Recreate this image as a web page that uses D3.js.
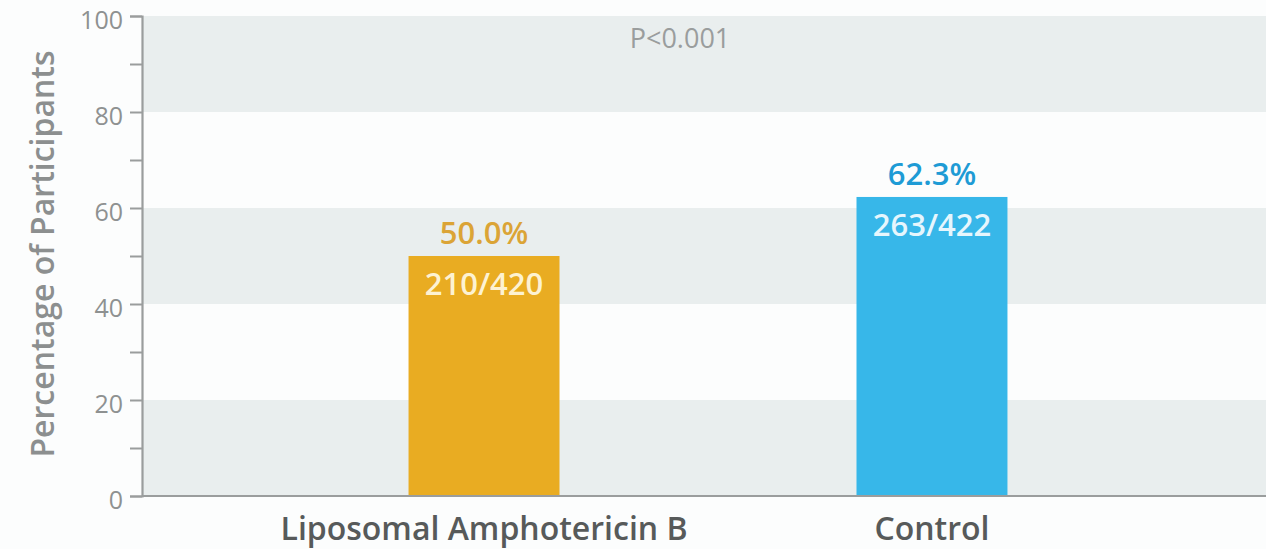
<!DOCTYPE html>
<html>
<head>
<meta charset="utf-8">
<script src="https://cdn.jsdelivr.net/npm/d3@7"></script>
<style>
  html, body { margin: 0; padding: 0; background: #fcfdfd; }
  svg { display: block; }
  text { font-family: "Open Sans", Lato, sans-serif; }
</style>
</head>
<body>
<svg id="chart" width="1266" height="549"></svg>
<script>
// Trial arms and outcome
const categories = ["Liposomal Amphotericin B", "Control"];
const percentages = [50.0, 62.3];
const counts = ["210/420", "263/422"];
const yTicks = [0, 20, 40, 60, 80, 100];
const pValueText = "P<0.001";
const yTitle = "Percentage of Participants";

const W = 1266, H = 549;
const margin = { left: 142, top: 16, bottom: 53 };
const plotRight = W;

const svg = d3.select("#chart");

const y = d3.scaleLinear().domain([0, 100]).range([H - margin.bottom, margin.top]);
const x = d3.scaleBand().domain(categories)
  .range([margin.left, 1274]).paddingInner(0.663).paddingOuter(0.595);

const colors = ["#e9ac22", "#37b7e9"];
const labelColors = ["#dba436", "#1e9bd5"];
const countColors = ["#fdf2d2", "#e6f6fd"];

// Alternating background bands
const bands = d3.range(0, 100, 20);
svg.append("g").selectAll("rect").data(bands).join("rect")
  .attr("x", margin.left)
  .attr("width", plotRight - margin.left)
  .attr("y", d => y(d + 20))
  .attr("height", d => y(d) - y(d + 20))
  .attr("fill", (d, i) => i % 2 === 0 ? "#e9eeee" : "#fcfdfd");

// Bars
svg.append("g").selectAll("rect").data(categories).join("rect")
  .attr("x", d => x(d))
  .attr("width", x.bandwidth())
  .attr("y", (d, i) => y(percentages[i]))
  .attr("height", (d, i) => y(0) - y(percentages[i]))
  .attr("fill", (d, i) => colors[i]);

// Percent labels above bars
svg.append("g").selectAll("text").data(categories).join("text")
  .attr("x", d => x(d) + x.bandwidth() / 2)
  .attr("y", (d, i) => y(percentages[i]) - 12)
  .attr("text-anchor", "middle")
  .attr("font-size", 31)
  .attr("font-weight", 600)
  .attr("fill", (d, i) => labelColors[i])
  .text((d, i) => percentages[i].toFixed(1) + "%");

// Count labels inside bars
svg.append("g").selectAll("text").data(categories).join("text")
  .attr("x", d => x(d) + x.bandwidth() / 2)
  .attr("y", (d, i) => y(percentages[i]) + 39)
  .attr("text-anchor", "middle")
  .attr("font-size", 31)
  .attr("font-weight", 600)
  .attr("fill", (d, i) => countColors[i])
  .text((d, i) => counts[i]);

// Y axis with minor ticks
const axisColor = "#9a9d9d";
const yAxis = svg.append("g").attr("transform", `translate(${margin.left},0)`)
  .call(d3.axisLeft(y).tickValues(d3.range(0, 101, 10)).tickSize(12).tickPadding(7)
    .tickFormat(d => yTicks.includes(d) ? d : ""));
yAxis.select(".domain").attr("stroke", axisColor).attr("stroke-width", 2.2);
yAxis.selectAll(".tick line").attr("stroke", axisColor).attr("stroke-width", 2);
yAxis.selectAll(".tick text").attr("fill", "#8e9191").attr("font-size", 25)
  .attr("dy", "0.5em")
  .attr("font-family", "'Open Sans', sans-serif");

// Baseline
svg.append("line")
  .attr("x1", margin.left).attr("x2", plotRight)
  .attr("y1", y(0)).attr("y2", y(0))
  .attr("stroke", axisColor).attr("stroke-width", 2.2);

// Category labels
svg.append("g").selectAll("text").data(categories).join("text")
  .attr("x", d => x(d) + x.bandwidth() / 2)
  .attr("y", 540)
  .attr("text-anchor", "middle")
  .attr("font-size", 32)
  .attr("font-weight", 600)
  .attr("fill", "#575a5a")
  .text(d => d);

// Y title
svg.append("text")
  .attr("transform", `translate(54, ${(y(0) + y(100)) / 2 - 2}) rotate(-90)`)
  .attr("text-anchor", "middle")
  .attr("font-size", 32)
  .attr("font-weight", 600)
  .attr("fill", "#8c8f8f")
  .text(yTitle);

// Significance note
svg.append("text")
  .attr("x", 680).attr("y", 48)
  .attr("text-anchor", "middle")
  .attr("font-size", 27)
  .attr("fill", "#9a9d9d")
  .text(pValueText);
</script>
</body>
</html>
